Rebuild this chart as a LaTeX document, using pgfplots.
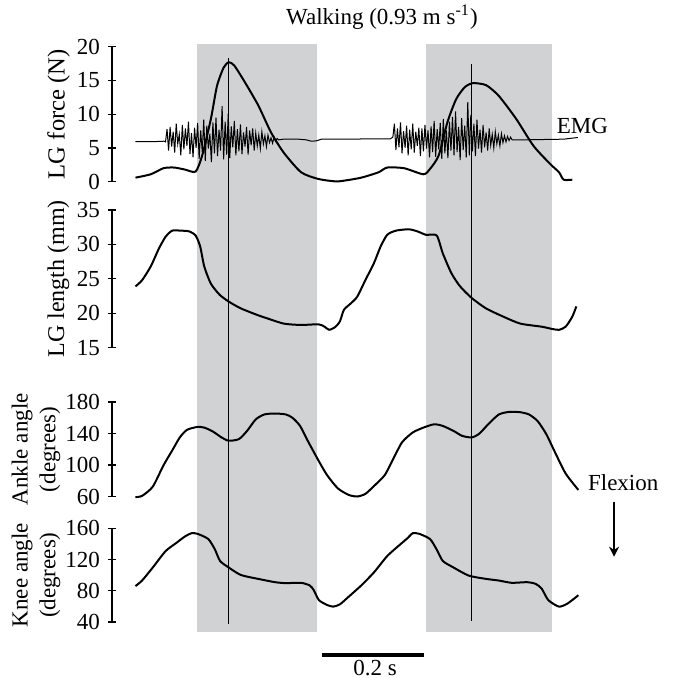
\documentclass[border=0pt,11pt]{standalone}
\usepackage{fontspec}
\setmainfont{Liberation Serif}
\usepackage{pgfplots}
\pgfplotsset{compat=1.18}
\usetikzlibrary{arrows.meta}
\definecolor{band}{RGB}{209,210,212}

\pgfplotsset{
  panel/.style={
    scale only axis, width=233.45pt,
    xmin=-0.046, xmax=0.87,
    axis x line=none, axis y line=left,
    y axis line style={-, line width=0.6pt},
    tick align=center, major tick length=4pt,
    every tick/.style={black, line width=0.6pt},
    yticklabel style={/pgf/number format/assume math mode=true},
    clip=false, anchor=south west,
    every axis y label/.style={at={(axis description cs:-0.1146,0.5)},
      rotate=90, anchor=center, align=center},
  },
  trace/.style={black, line width=1pt, smooth, tension=0.4},
}

\begin{document}
\fontsize{11.5}{13.8}\selectfont
\begin{tikzpicture}
\path[use as bounding box] (0,0) rectangle (337.5pt,-339pt);

% LG force + EMG
\begin{axis}[panel, at={(56pt,-90.85pt)}, height=67.5pt,
  ymin=0, ymax=20, ytick={0,5,10,15,20}, ylabel={LG force (N)},
  ylabel style={font=\fontsize{12.3}{14}\selectfont}]
\fill[band] (axis cs:0.121,-66.67) rectangle (axis cs:0.357,20.36);
\fill[band] (axis cs:0.571,-66.67) rectangle (axis cs:0.818,20.36);
\addplot[black, line width=0.5pt] table {
0.000 5.93
0.040 5.95
0.056 6.0
0.059 5.9
0.062 7.8
0.065 4.6
0.068 8.1
0.071 5.2
0.074 7.4
0.077 4.3
0.080 8.6
0.083 5.6
0.086 7.0
0.089 3.9
0.092 8.4
0.095 4.8
0.098 7.9
0.101 5.3
0.104 8.9
0.107 4.1
0.110 7.2
0.113 3.6
0.116 8.0
0.119 5.0
0.122 8.7
0.125 3.4
0.128 7.6
0.131 4.4
0.134 9.2
0.137 3.1
0.140 8.3
0.143 4.9
0.146 7.1
0.149 2.9
0.152 8.8
0.155 4.2
0.158 9.5
0.161 3.8
0.164 7.7
0.167 4.6
0.170 11.2
0.173 3.3
0.176 8.9
0.179 4.0
0.182 10.1
0.185 3.5
0.188 8.2
0.191 5.1
0.194 9.0
0.197 3.9
0.200 7.8
0.203 4.5
0.206 8.5
0.209 4.1
0.212 7.3
0.215 5.2
0.218 8.1
0.221 4.0
0.224 7.6
0.227 5.4
0.230 7.9
0.233 4.6
0.236 7.2
0.239 5.3
0.242 6.9
0.245 4.9
0.248 7.4
0.251 5.6
0.254 6.8
0.257 5.2
0.260 6.9
0.263 5.8
0.266 6.5
0.269 5.7
0.272 6.6
0.275 6.0
0.278 6.4
0.281 6.2
0.290 6.3
0.320 6.3
0.335 6.2
0.345 6.0
0.355 6.05
0.365 6.3
0.420 6.3
0.460 6.35
0.500 6.35
0.505 6.6
0.508 8.6
0.511 4.7
0.514 7.9
0.517 5.1
0.520 8.8
0.523 4.2
0.526 7.5
0.529 5.0
0.532 8.3
0.535 3.9
0.538 7.7
0.541 4.8
0.544 8.6
0.547 4.3
0.550 7.4
0.553 5.3
0.556 8.0
0.559 3.8
0.562 7.9
0.565 4.5
0.568 8.4
0.571 4.9
0.574 7.6
0.577 3.6
0.580 8.2
0.583 4.4
0.586 9.0
0.589 3.7
0.592 7.8
0.595 4.8
0.598 8.7
0.601 3.4
0.604 9.3
0.607 4.2
0.610 7.6
0.613 3.5
0.616 8.9
0.619 4.6
0.622 9.6
0.625 3.9
0.628 10.4
0.631 4.4
0.634 8.1
0.637 3.2
0.640 9.4
0.643 4.7
0.646 8.3
0.649 3.6
0.652 11.8
0.655 3.9
0.658 9.9
0.661 4.5
0.664 8.6
0.667 3.8
0.670 9.2
0.673 4.9
0.676 7.7
0.679 4.3
0.682 8.4
0.685 5.1
0.688 7.3
0.691 4.6
0.694 7.9
0.697 5.4
0.700 7.0
0.703 5.0
0.706 7.4
0.709 5.6
0.712 6.9
0.715 5.3
0.718 7.1
0.721 5.8
0.724 6.8
0.727 5.9
0.730 6.7
0.733 6.1
0.736 6.6
0.739 6.2
0.760 6.2
0.800 6.25
0.840 6.3
0.868 6.55
};
\addplot[trace] table {
0.000 0.6
0.030 1.1
0.055 2.0
0.076 2.1
0.097 1.8
0.118 1.5
0.131 3.9
0.148 9.3
0.160 14.2
0.173 16.9
0.183 17.7
0.194 17.2
0.215 14.7
0.241 11.3
0.266 7.3
0.291 4.3
0.325 1.4
0.359 0.4
0.392 0.05
0.409 0.15
0.443 0.6
0.477 1.4
0.494 2.1
0.527 2.0
0.565 1.1
0.578 1.9
0.595 3.9
0.612 8.8
0.629 12.2
0.646 14.0
0.662 14.6
0.688 14.3
0.713 12.7
0.747 9.3
0.781 5.3
0.814 2.6
0.831 1.4
0.840 0.3
0.857 0.3
};
\draw[line width=0.6pt] (axis cs:0.183,18.28) -- (axis cs:0.183,-65.53);
\draw[line width=0.6pt] (axis cs:0.660,17.44) -- (axis cs:0.660,-65.13);
\node at (axis cs:0.4836,24.4) {Walking (0.93 m s\textsuperscript{-1})};
\node at (axis cs:0.877,8.25) {EMG};
\end{axis}

% LG length
\begin{axis}[panel, at={(56pt,-173.85pt)}, height=68.85pt,
  ymin=15, ymax=35, ytick={15,20,25,30,35}, ylabel={LG length (mm)},
  ylabel style={font=\fontsize{12}{14}\selectfont}]
\addplot[trace] table {
0.000 23.9
0.013 24.8
0.030 26.8
0.046 29.4
0.059 31.1
0.072 32.0
0.089 32.0
0.105 31.9
0.118 31.3
0.127 29.7
0.135 26.8
0.148 24.3
0.165 22.7
0.183 21.7
0.207 20.7
0.241 19.7
0.257 19.3
0.291 18.5
0.325 18.3
0.359 18.4
0.371 18.05
0.380 17.6
0.392 18.0
0.401 18.8
0.409 20.5
0.422 21.4
0.435 22.4
0.451 24.8
0.468 27.3
0.481 29.7
0.494 31.4
0.511 32.0
0.536 32.2
0.553 31.9
0.570 31.4
0.591 31.3
0.603 28.7
0.620 25.8
0.637 23.9
0.660 22.2
0.688 20.7
0.722 19.5
0.755 18.5
0.797 18.05
0.819 17.7
0.831 17.6
0.844 18.05
0.857 19.5
0.865 21.0
};
\end{axis}

% Ankle angle
\begin{axis}[panel, at={(56pt,-248.25pt)}, height=47.25pt,
  ymin=60, ymax=180, ytick={60,100,140,180},
  ylabel={Ankle angle\\(degrees)},
  every axis y label/.append style={at={(axis description cs:-0.1628,0.5)}}]
\addplot[trace] table {
0.000 59.2
0.013 60.8
0.034 72.5
0.055 99.6
0.072 118.3
0.087 135
0.101 144.6
0.121 148.3
0.135 147.5
0.152 142.5
0.169 135
0.183 130.8
0.203 132.9
0.219 143.3
0.236 157.9
0.253 164.2
0.274 165.4
0.295 164.2
0.308 160
0.323 149.6
0.338 130.8
0.359 105.8
0.376 87.1
0.397 70.4
0.418 62.1
0.435 60
0.451 63.3
0.468 73.3
0.489 87.1
0.506 108
0.523 128.8
0.544 141.3
0.565 147.5
0.586 151.7
0.603 149.6
0.624 143.3
0.641 137
0.660 135
0.675 140
0.692 151.7
0.713 164.2
0.734 167.5
0.755 167
0.772 164.2
0.789 155.8
0.806 139.2
0.823 116.3
0.844 89.2
0.869 68.3
};
\node at (axis cs:0.957,77.1) {Flexion};
\draw[-{Stealth[length=5pt,width=5pt]}, line width=1pt]
  (axis cs:0.939,53.4) -- (axis cs:0.939,-16.4);
\end{axis}

% Knee angle
\begin{axis}[panel, at={(56pt,-311pt)}, height=46.85pt,
  ymin=40, ymax=160, ytick={40,80,120,160},
  ylabel={Knee angle\\(degrees)},
  every axis y label/.append style={at={(axis description cs:-0.1628,0.5)}}]
\addplot[trace] table {
0.000 86.0
0.013 93.1
0.034 109.8
0.059 130.7
0.080 141.2
0.097 149.5
0.110 153.7
0.122 152.9
0.143 146.2
0.156 132.8
0.166 118.2
0.183 109.8
0.207 100.2
0.241 95.2
0.274 91
0.295 89.8
0.325 90.2
0.342 86.8
0.350 80.6
0.360 68
0.376 61.8
0.388 59.7
0.401 62.6
0.418 72.2
0.443 86.8
0.468 103.6
0.494 124.5
0.519 139.1
0.534 147.5
0.544 153.7
0.557 152.9
0.578 146.2
0.591 132.8
0.603 118.2
0.624 109.8
0.654 99.4
0.688 95.2
0.713 93.1
0.738 90.2
0.768 91
0.785 88.9
0.797 82.7
0.810 68
0.831 59.7
0.848 63.8
0.869 74.3
};
\draw[line width=2pt] (axis cs:0.366,-2.25) -- (axis cs:0.566,-2.25);
\node at (axis cs:0.47,-19.5) {0.2 s};
\end{axis}
\end{tikzpicture}
\end{document}
